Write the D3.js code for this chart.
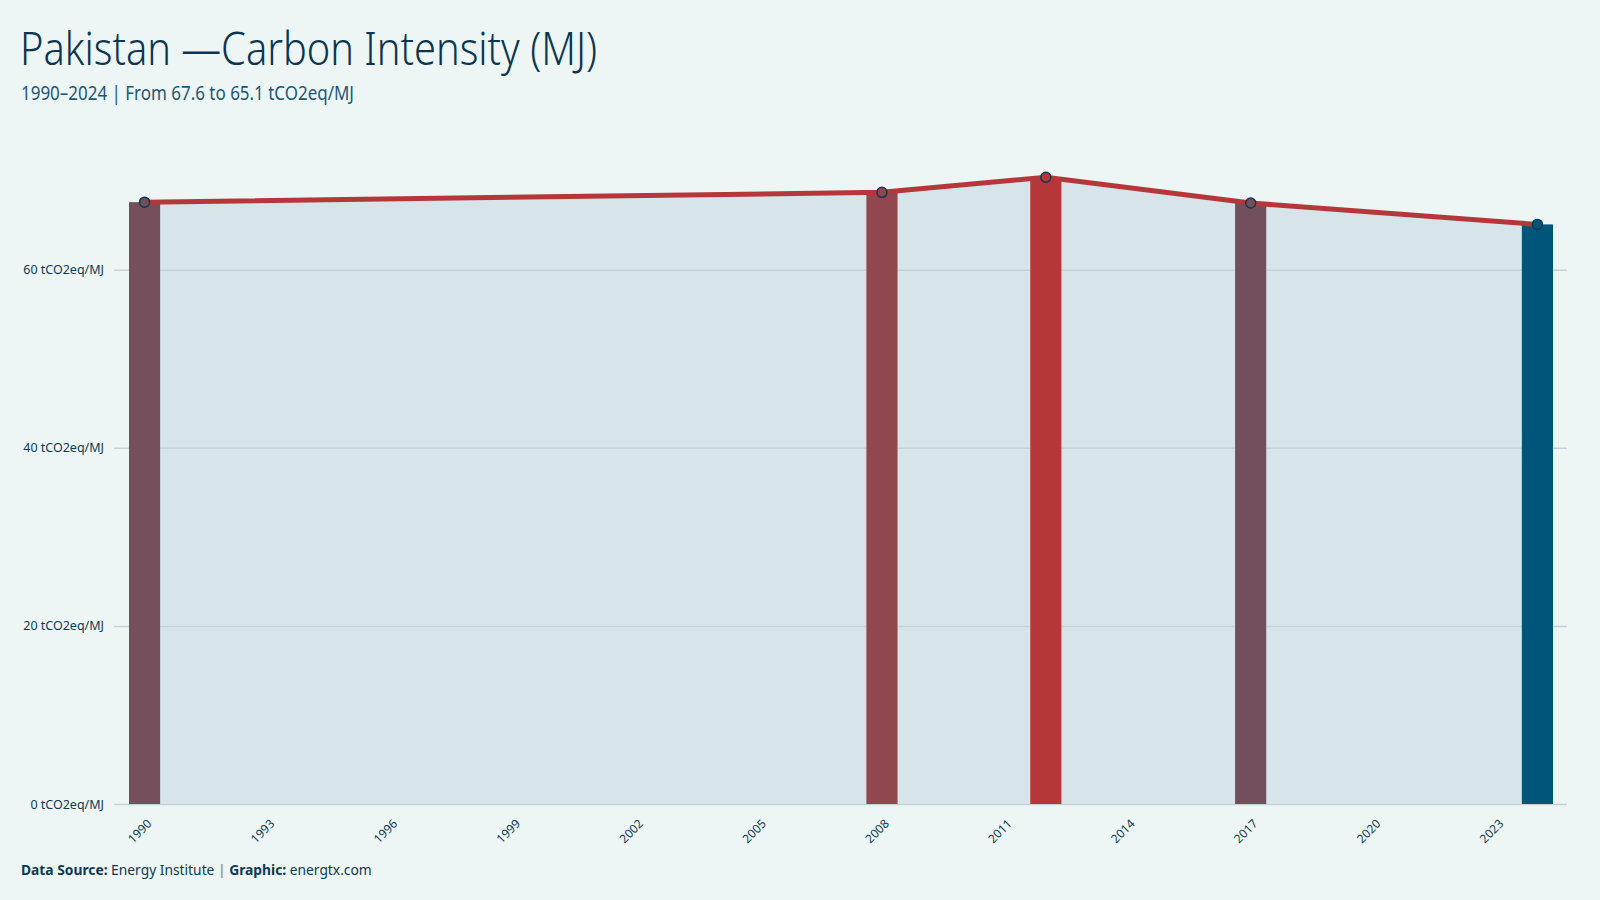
<!DOCTYPE html>
<html>
<head>
<meta charset="utf-8">
<script src="https://cdn.jsdelivr.net/npm/d3@7"></script>
<style>
  body { margin: 0; background: #eef5f5; }
  svg { display: block; }
  .tick text { fill: #0d3a52; font-family: "Noto Sans", sans-serif; font-size: 12px; }
</style>
</head>
<body>
<div id="chart"></div>
<script>
// data
var years = [1990, 2008, 2012, 2017, 2024];
var values = [67.6, 68.7, 70.4, 67.5, 65.1];
var allYears = d3.range(1990, 2025);
var tickYears = d3.range(1990, 2025, 3);
var yTicks = [0, 20, 40, 60];
var unit = "tCO2eq/MJ";

var svgWidth = 1600;
var svgHeight = 900;

var svg = d3.select("#chart").append("svg")
    .attr("width", svgWidth)
    .attr("height", svgHeight);

svg.append("rect").attr("width", svgWidth).attr("height", svgHeight).attr("fill", "#eef5f5");

// title + subtitle (condensed look squeezed with textLength)
svg.append("text")
    .attr("x", 20).attr("y", 65)
    .attr("fill", "#0b3550")
    .attr("textLength", 577)
    .attr("lengthAdjust", "spacingAndGlyphs")
    .style("font-family", "'Noto Sans', sans-serif")
    .style("font-weight", 300)
    .style("font-size", "45px")
    .text("Pakistan \u2014Carbon Intensity (MJ)");

svg.append("text")
    .attr("x", 21).attr("y", 100)
    .attr("fill", "#1b5877")
    .attr("textLength", 333)
    .attr("lengthAdjust", "spacingAndGlyphs")
    .style("font-family", "'Noto Sans', sans-serif")
    .style("font-size", "19px")
    .text("1990\u20132024 | From 67.6 to 65.1 " + unit);

var xScale = d3.scaleBand().domain(allYears).range([129, 1553]).paddingInner(0.24).paddingOuter(0);
var yScale = d3.scaleLinear().domain([0, 77.5]).range([804, 114]);

var colorScale = d3.scaleLinear()
    .domain([d3.min(values), d3.max(values)])
    .range(["#00567a", "#b5373a"])
    .interpolate(d3.interpolateLab);

var data = years.map(function (y, i) { return {year: y, value: values[i]}; });
var cx = function (d) { return xScale(d.year) + xScale.bandwidth() / 2; };

// area under line
var area = d3.area()
    .x(cx)
    .y0(yScale(0))
    .y1(function (d) { return yScale(d.value); });

svg.append("path")
    .datum(data)
    .attr("d", area)
    .attr("fill", "#d7e4e9");

// y axis / grid
var yAxis = d3.axisLeft(yScale)
    .tickValues(yTicks)
    .tickSize(-(1567 - 114))
    .tickPadding(10)
    .tickFormat(function (d) { return d + " " + unit; });

var yG = svg.append("g")
    .attr("transform", "translate(114,0)")
    .call(yAxis);
yG.select(".domain").remove();
yG.selectAll(".tick text").style("font-size", "12.5px");
yG.selectAll(".tick line").attr("stroke", "#c5d3d8").attr("stroke-width", 1.5)
    .attr("x1", 0).attr("x2", 1567 - 114);

// bars
svg.selectAll(".bar")
    .data(data)
    .enter()
    .append("rect")
    .attr("class", "bar")
    .attr("x", function (d) { return xScale(d.year); })
    .attr("y", function (d) { return yScale(d.value); })
    .attr("width", xScale.bandwidth())
    .attr("height", function (d) { return yScale(0) - yScale(d.value); })
    .attr("fill", function (d) { return colorScale(d.value); });

// line
var line = d3.line()
    .x(cx)
    .y(function (d) { return yScale(d.value); });

svg.append("path")
    .datum(data)
    .attr("d", line)
    .attr("fill", "none")
    .attr("stroke", "#b5373a")
    .attr("stroke-width", 5);

svg.selectAll(".dot")
    .data(data)
    .enter()
    .append("circle")
    .attr("class", "dot")
    .attr("cx", cx)
    .attr("cy", function (d) { return yScale(d.value); })
    .attr("r", 5)
    .attr("fill", function (d) { return colorScale(d.value); })
    .attr("stroke", "#0d3a52")
    .attr("stroke-width", 1.5);

// x axis
var xAxis = d3.axisBottom(xScale).tickValues(tickYears).tickSize(0).tickPadding(14);
var xG = svg.append("g")
    .attr("transform", "translate(0,804)")
    .call(xAxis);
xG.select(".domain").remove();
xG.selectAll(".tick text")
    .attr("text-anchor", "end")
    .attr("dx", "-9px")
    .attr("dy", "6px")
    .attr("transform", "rotate(-45)");

// footer
var foot = svg.append("text")
    .attr("x", 21).attr("y", 875)
    .attr("fill", "#0d3a52")
    .style("font-family", "'Noto Sans', sans-serif")
    .style("font-size", "13.8px");
foot.append("tspan").attr("font-weight", "bold").text("Data Source:");
foot.append("tspan").text(" Energy Institute ");
foot.append("tspan").attr("fill", "#8aa0ad").attr("font-weight", "bold").text("|");
foot.append("tspan").attr("font-weight", "bold").text(" Graphic:");
foot.append("tspan").text(" energtx.com");
</script>
</body>
</html>
